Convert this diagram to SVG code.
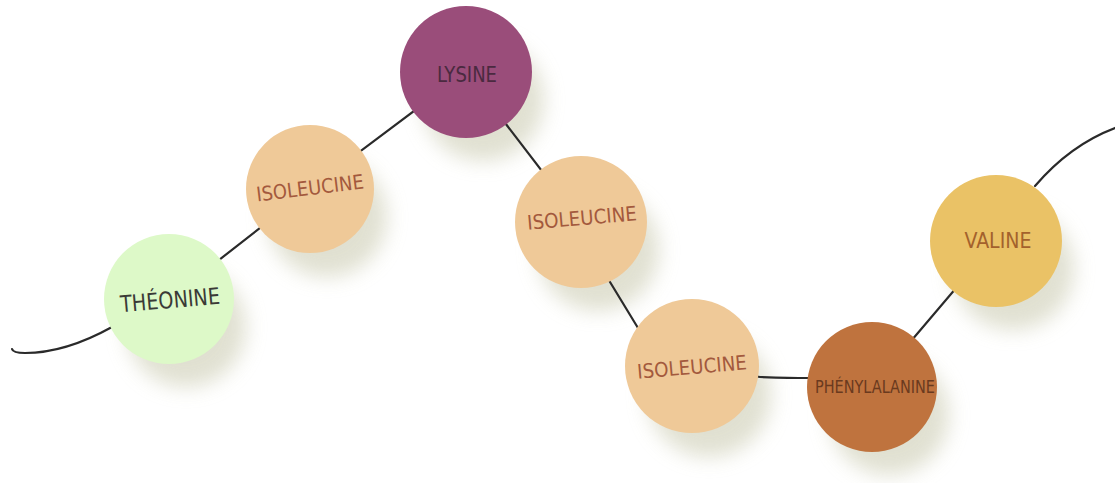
<svg xmlns="http://www.w3.org/2000/svg" width="1115" height="483" viewBox="0 0 1115 483">
<defs>
<filter id="sh" x="-50%" y="-50%" width="200%" height="200%"><feGaussianBlur stdDeviation="10"/></filter>
<style>
.shadow{fill:#d9d9c6;opacity:0.8;filter:url(#sh)}
.wire{fill:none;stroke:#2a2a2a;stroke-width:2.2;stroke-linecap:round;stroke-linejoin:round}
text{font-family:"DejaVu Sans","Noto Sans",sans-serif;font-stretch:condensed;text-anchor:middle;dominant-baseline:central}
.ile circle.c{fill:#efc998}
.ile text{fill:#a3593d;font-size:20px}
</style>
</defs>
<rect width="1115" height="483" fill="#ffffff"/>
<g id="shadows">
<circle class="shadow" cx="186" cy="327" r="60"/>
<circle class="shadow" cx="327" cy="217" r="60"/>
<circle class="shadow" cx="483" cy="100" r="61"/>
<circle class="shadow" cx="598" cy="250" r="61"/>
<circle class="shadow" cx="709" cy="395" r="62"/>
<circle class="shadow" cx="889" cy="415" r="60"/>
<circle class="shadow" cx="1013" cy="269" r="61"/>
</g>
<g id="connectors">
<path class="wire" d="M12,349 Q13,353 25,353 C55,353 85,342 112,327"/>
<path class="wire" d="M169,299 L310,189 L466,72 L581,222 L610,282 L638,328 L692,366"/>
<path class="wire" d="M692,366 L760,377 Q790,378 808,378 L872,387 L996,241"/>
<path class="wire" d="M1035,186 Q1070,145 1115,128"/>
</g>
<g id="theonine">
<circle cx="169" cy="299" r="65" fill="#ddf9c8"/>
<text x="170" y="300" transform="rotate(-5 170 300)" font-size="23" fill="#3a3a36" textLength="100" lengthAdjust="spacingAndGlyphs">THÉONINE</text>
</g>
<g id="isoleucine1" class="ile">
<circle class="c" cx="310" cy="189" r="64"/>
<text x="310" y="188" transform="rotate(-7 310 188)" textLength="108" lengthAdjust="spacingAndGlyphs">ISOLEUCINE</text>
</g>
<g id="lysine">
<circle cx="466" cy="72" r="66" fill="#9a4d7a"/>
<text x="467" y="75" font-size="21" fill="#4a2a40" textLength="60" lengthAdjust="spacingAndGlyphs">LYSINE</text>
</g>
<g id="isoleucine2" class="ile">
<circle class="c" cx="581" cy="222" r="66"/>
<text x="582" y="218" transform="rotate(-5 582 218)" textLength="110" lengthAdjust="spacingAndGlyphs">ISOLEUCINE</text>
</g>
<g id="isoleucine3" class="ile">
<circle class="c" cx="692" cy="366" r="67"/>
<text x="692" y="367" transform="rotate(-5 692 367)" textLength="110" lengthAdjust="spacingAndGlyphs">ISOLEUCINE</text>
</g>
<g id="phenylalanine">
<circle cx="872" cy="387" r="65" fill="#bf733e"/>
<text x="875" y="387" font-size="17" fill="#6a3a1e" textLength="120" lengthAdjust="spacingAndGlyphs">PHÉNYLALANINE</text>
</g>
<g id="valine">
<circle cx="996" cy="241" r="66" fill="#eac266"/>
<text x="998" y="241" font-size="21" fill="#a3612c" textLength="67" lengthAdjust="spacingAndGlyphs">VALINE</text>
</g>
</svg>
